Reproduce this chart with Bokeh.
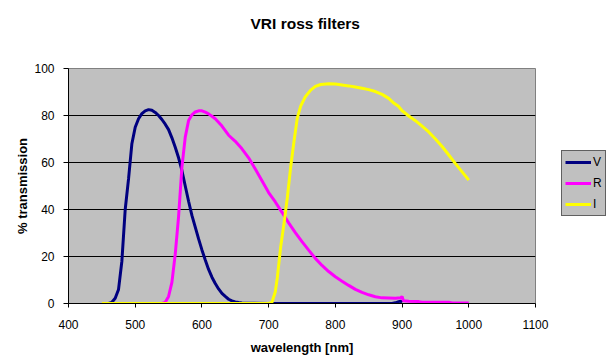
from bokeh.plotting import figure
from bokeh.models import Range1d, FixedTicker, Legend, LegendItem, Title
from bokeh.layouts import row
from bokeh.embed import file_html
from bokeh.resources import INLINE

# ---- data ----
v_nm = [460, 465, 470, 475, 480, 485, 490, 495, 500, 505, 510, 515, 520, 525, 530,
        535, 540, 545, 550, 555, 560, 565, 570, 575, 580, 585, 590, 595, 600, 605,
        610, 615, 620, 625, 630, 635, 640, 645, 650, 655, 660, 700, 750, 800, 850,
        885, 890, 895, 898, 900]
v_t = [0, 0.5, 2.2, 6, 18, 40, 53, 68, 75, 78.6, 80.8, 82, 82.5, 82.2, 81.3,
       80, 78.3, 76.3, 74, 70.5, 66.5, 62, 56.6, 50, 43.5, 37.5, 32.5, 27.5, 22.8, 18.5,
       14.5, 11.2, 8.5, 6.2, 4.3, 3, 1.8, 1.1, 0.7, 0.4, 0.2, 0, 0, 0, 0,
       0, 0.3, 0.8, 1.0, 0.4]

r_nm = [540, 545, 550, 555, 560, 565, 570, 575, 580, 585, 590, 595, 600, 605, 610,
        615, 620, 630, 640, 650, 660, 670, 680, 690, 700, 710, 720, 730, 740, 750,
        760, 770, 780, 790, 800, 810, 820, 830, 840, 850, 860, 870, 880, 890, 898,
        900, 902, 910, 925, 930, 970, 975, 1000]
r_t = [0, 0.5, 3, 9, 21, 37, 58, 70.8, 77.9, 80.3, 81.5, 82, 82, 81.4, 80.7,
       79.7, 78.6, 75.5, 71.6, 69, 65.8, 62, 57.2, 52.2, 47.2, 43.2, 38.8, 34.3, 30.2, 26.3,
       22.7, 19.2, 16.2, 13.6, 11.4, 9.5, 7.7, 6, 4.7, 3.7, 2.9, 2.4, 2.3, 2.2, 2.4,
       3, 1.2, 1, 0.8, 0.5, 0.5, 0.2, 0.2]

i_nm = [450, 500, 600, 700, 705, 710, 713, 718, 723, 728, 733, 738, 743, 748, 755,
        763, 770, 778, 790, 800, 810, 820, 830, 840, 850, 860, 870, 880, 888, 895,
        900, 903, 910, 920, 930, 940, 950, 960, 970, 980, 990, 1000]
i_t = [0, 0, 0, 0, 0.5, 5, 11, 24, 34, 45, 58, 69, 79, 84, 88,
       90.8, 92.4, 93.2, 93.5, 93.4, 93, 92.6, 92.1, 91.6, 91, 90.2, 89, 87.3, 85.2, 83.8,
       82, 81.4, 79.8, 77.8, 75.5, 73, 70, 66.8, 63.2, 59.5, 56, 52.5]

series_names = ["V", "R", "I"]
series_colors = ["#000080", "#ff00ff", "#ffff00"]

x_ticks = [400, 500, 600, 700, 800, 900, 1000, 1100]
y_ticks = [0, 20, 40, 60, 80, 100]
title_text = "VRI ross filters"

FONT = "Liberation Sans"

p = figure(width=553, height=361, output_backend="svg", toolbar_location=None,
           x_range=Range1d(400, 1100), y_range=Range1d(0, 100),
           min_border_left=68, min_border_right=18, min_border_top=68, min_border_bottom=58,
           title=None)

p.border_fill_color = "white"
p.background_fill_color = "#c0c0c0"
p.outline_line_color = "#808080"
p.outline_line_width = 1

# blank spacer title (nearest the frame) pushes the real title upward
spacer = Title(text=" ", text_font_size="1px", text_color="white", standoff=34)
p.add_layout(spacer, "above")
main_title = Title(text=title_text, align="left", offset=182, vertical_align="bottom",
                   standoff=0, text_font=FONT, text_font_size="15.5px",
                   text_font_style="bold", text_color="black")
p.add_layout(main_title, "above")

p.xaxis.ticker = FixedTicker(ticks=x_ticks)
p.yaxis.ticker = FixedTicker(ticks=y_ticks)
for ax in (p.xaxis[0], p.yaxis[0]):
    ax.axis_line_color = "black"
    ax.major_tick_line_color = "black"
    ax.minor_tick_line_color = None
    ax.major_tick_in = 0
    ax.major_label_text_font = FONT
    ax.major_label_text_font_size = "12px"
    ax.major_label_text_color = "black"
    ax.axis_label_text_font = FONT
    ax.axis_label_text_font_size = "13px"
    ax.axis_label_text_font_style = "bold"
    ax.axis_label_text_color = "black"

p.xaxis.axis_label = "wavelength [nm]"
p.yaxis.axis_label = "% transmission"
p.xaxis.major_tick_out = 4
p.xaxis.major_label_standoff = 12
p.xaxis.axis_label_standoff = 8
p.yaxis.major_tick_out = 5
p.yaxis.major_label_standoff = 9
p.yaxis.axis_label_standoff = 1

p.xgrid.grid_line_color = None
p.ygrid.ticker = FixedTicker(ticks=[t for t in y_ticks if 0 < t < 100])
p.ygrid.grid_line_color = "black"
p.ygrid.grid_line_width = 1

for name, xs, ys, col in zip(series_names, [v_nm, r_nm, i_nm], [v_t, r_t, i_t], series_colors):
    p.line(xs, ys, line_color=col, line_width=3)

# legend panel to the right of the chart (its frame is aligned with the chart's frame)
lg = figure(width=58, height=361, output_backend="svg", toolbar_location=None,
            x_range=Range1d(0, 1), y_range=Range1d(0, 1),
            min_border=0, min_border_left=0, min_border_right=0,
            min_border_top=0, min_border_bottom=0)
lg.axis.visible = False
lg.grid.visible = False
lg.outline_line_color = None
lg.background_fill_color = "white"
lg.border_fill_color = "white"
# legend-only renderers: their points lie outside the visible range
dummies = [lg.line([5, 6], [5, 6], line_color=col, line_width=3) for col in series_colors]

legend = Legend(items=[LegendItem(label=n, renderers=[r]) for n, r in zip(series_names, dummies)],
                location=(8, 87), orientation="vertical")
legend.background_fill_color = "#c0c0c0"
legend.background_fill_alpha = 1
legend.border_line_color = "black"
legend.border_line_width = 1
legend.margin = 0
legend.padding = 3
legend.spacing = 5
legend.glyph_width = 26
legend.glyph_height = 16
legend.label_height = 16
legend.label_width = 9
legend.label_standoff = 2
legend.label_text_font = FONT
legend.label_text_font_size = "12px"
legend.label_text_color = "black"
lg.add_layout(legend, "center")

layout = row(p, lg, spacing=0)

open("out.html", "w").write(file_html(layout, INLINE))
